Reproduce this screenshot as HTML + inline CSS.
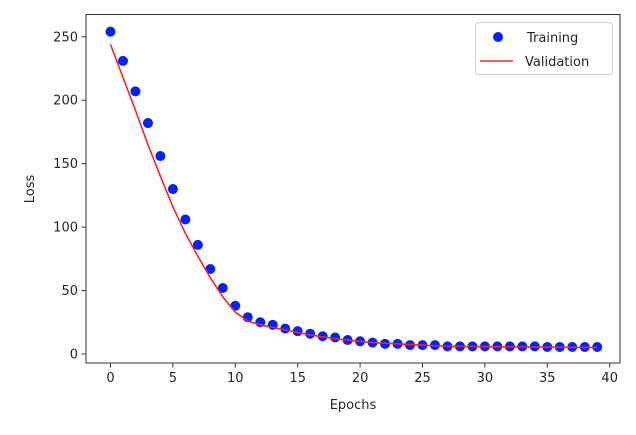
<!DOCTYPE html>
<html><head><meta charset="utf-8"><style>
body{margin:0;background:#fff}
svg text{font-family:"DejaVu Sans","Liberation Sans",sans-serif;fill:#262626}
</style></head><body>
<svg width="636" height="430" xmlns="http://www.w3.org/2000/svg">
<g id="plot"></g>
</svg>
<script>
const epochs=[...Array(40).keys()];
const training=[254,231,207,182,156,130,106,86,67,52,38,29,25,23,20,18,16,14,13,11,10,9,8,8,7,7,7,6,6,6,6,6,6,6,6,5.5,5.5,5.5,5.5,5.5];
const validation=[244,218,192,165,140,116,95,77,60,45,33,26,23,21,19,17,15,13.5,12,11,10,9,8.5,8,7.5,7,6.5,6.2,6,6,5.8,5.8,5.7,5.6,5.5,5.5,5.4,5.3,5.2,5.2];
const xTicks=[0,5,10,15,20,25,30,35,40];
const yTicks=[0,50,100,150,200,250];
const NS='http://www.w3.org/2000/svg';
const g=document.getElementById('plot');
const xs=v=>110.5+v*12.48;
const ys=v=>354-v*1.269;
function el(t,a,p){const e=document.createElementNS(NS,t);for(const k in a)e.setAttribute(k,a[k]);(p||g).appendChild(e);return e;}
// axes frame
let f=el('rect',{x:86,y:14.5,width:534,height:348.5,fill:'none',stroke:'#333','stroke-width':1});


xTicks.forEach(t=>{
 const l=el('line',{x1:xs(t),x2:xs(t),y1:363,y2:367.5,stroke:'#333'});
 
 
 const tx=el('text',{x:xs(t),y:382,'font-size':13,'text-anchor':'middle'});tx.textContent=t;
 
 
});
yTicks.forEach(t=>{
 const l=el('line',{x1:81.5,x2:86,y1:ys(t),y2:ys(t),stroke:'#333'});
 
 
 const tx=el('text',{x:78,y:ys(t)+4.5,'font-size':13,'text-anchor':'end'});tx.textContent=t;
 
 
});
const xl=el('text',{x:353,y:409,'font-size':13,'text-anchor':'middle'});xl.textContent='Epochs';


const yl=el('text',{x:34,y:189,'font-size':13,'text-anchor':'middle',transform:'rotate(-90 34 189)'});yl.textContent='Loss';


training.forEach((v,i)=>{
 const c=el('circle',{cx:xs(epochs[i]),cy:ys(v),r:5,fill:'#0022ff'});
 
 
});
const pl=el('polyline',{points:validation.map((v,i)=>xs(epochs[i])+','+ys(v)).join(' '),fill:'none',stroke:'#ff2020','stroke-width':1.6});


// legend
const lg=el('g',{});


el('rect',{x:475.5,y:22.5,width:137,height:52,rx:3,fill:'#fff',stroke:'#ccc'},lg);
const lc=el('circle',{cx:498,cy:37,r:5,fill:'#0022ff'},lg);


const t1=el('text',{x:527,y:42,'font-size':13},lg);t1.textContent='Training';


const ll=el('line',{x1:480,x2:513,y1:61,y2:61,stroke:'#ff2020','stroke-width':1.6},lg);


const t2=el('text',{x:525,y:66,'font-size':13},lg);t2.textContent='Validation';


</script>
</body></html>
